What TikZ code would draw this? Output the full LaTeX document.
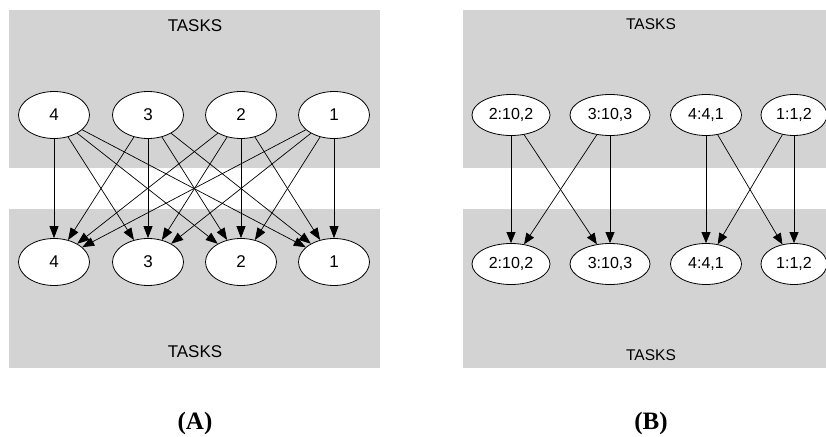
\documentclass[tikz,border=0pt]{standalone}
\usepackage{fontspec}
\setmainfont{Liberation Sans}
\newfontfamily\capfont{Liberation Serif}
\usetikzlibrary{arrows.meta,shapes.geometric}
\definecolor{clgray}{RGB}{211,211,211}
\begin{document}
\begin{tikzpicture}[x=1pt,y=-1pt,
  task/.style={ellipse,draw,fill=white,line width=0.8pt,inner sep=0pt,minimum width=71pt,minimum height=47pt,font=\fontsize{17}{20}\selectfont},
  taskb/.style={ellipse,draw,fill=white,line width=0.8pt,inner sep=0pt,minimum height=41pt,font=\fontsize{16}{19}\selectfont},
  edge/.style={-{Triangle[length=12pt,width=9pt]},line width=0.7pt},
  edgeb/.style={-{Triangle[length=11pt,width=9pt]},line width=0.7pt},
  cluster/.style={fill=clgray,draw=none},
  clabel/.style={font=\fontsize{17}{20}\selectfont},
  clabelb/.style={font=\fontsize{15.5}{19}\selectfont},
  panel/.style={font=\capfont\bfseries\fontsize{25}{30}\selectfont}]
\useasboundingbox (0,0) rectangle (826,436);
% clusters A
\fill[cluster] (9,10) rectangle (380,168);
\fill[cluster] (9,209) rectangle (380,368);
% clusters B
\fill[cluster] (463,10) rectangle (826,168);
\fill[cluster] (463,209) rectangle (826,368);
% labels
\node[clabel] (lat) at (195,26) {TASKS};
\node[clabel] (lab) at (195,352) {TASKS};
\node[clabelb] (lbt) at (651,24) {TASKS};
\node[clabelb] (lbb) at (651,355) {TASKS};
\node[panel] (pa) at (195,423) {(A)};
\node[panel] (pb) at (651,423) {(B)};
% nodes A
\node[task] (at4) at (54,115) {4};
\node[task] (at3) at (148,115) {3};
\node[task] (at2) at (241,115) {2};
\node[task] (at1) at (334,115) {1};
\node[task] (ab4) at (54,262) {4};
\node[task] (ab3) at (148,262) {3};
\node[task] (ab2) at (241,262) {2};
\node[task] (ab1) at (334,262) {1};
\foreach \i in {1,2,3,4}{\foreach \j in {1,2,3,4}{\draw[edge] (at\i) -- (ab\j);}}
% nodes B
\node[taskb,minimum width=78pt] (bt2) at (511,115) {2:10,2};
\node[taskb,minimum width=80pt] (bt3) at (610,115) {3:10,3};
\node[taskb,minimum width=71pt] (bt4) at (706,115) {4:4,1};
\node[taskb,minimum width=66pt] (bt1) at (794,115) {1:1,2};
\node[taskb,minimum width=78pt] (bb2) at (511,264) {2:10,2};
\node[taskb,minimum width=80pt] (bb3) at (610,264) {3:10,3};
\node[taskb,minimum width=71pt] (bb4) at (706,264) {4:4,1};
\node[taskb,minimum width=66pt] (bb1) at (794,264) {1:1,2};
\draw[edgeb] (bt2) -- (bb2);
\draw[edgeb] (bt2) -- (bb3);
\draw[edgeb] (bt3) -- (bb2);
\draw[edgeb] (bt3) -- (bb3);
\draw[edgeb] (bt4) -- (bb4);
\draw[edgeb] (bt4) -- (bb1);
\draw[edgeb] (bt1) -- (bb4);
\draw[edgeb] (bt1) -- (bb1);
\end{tikzpicture}
\end{document}
